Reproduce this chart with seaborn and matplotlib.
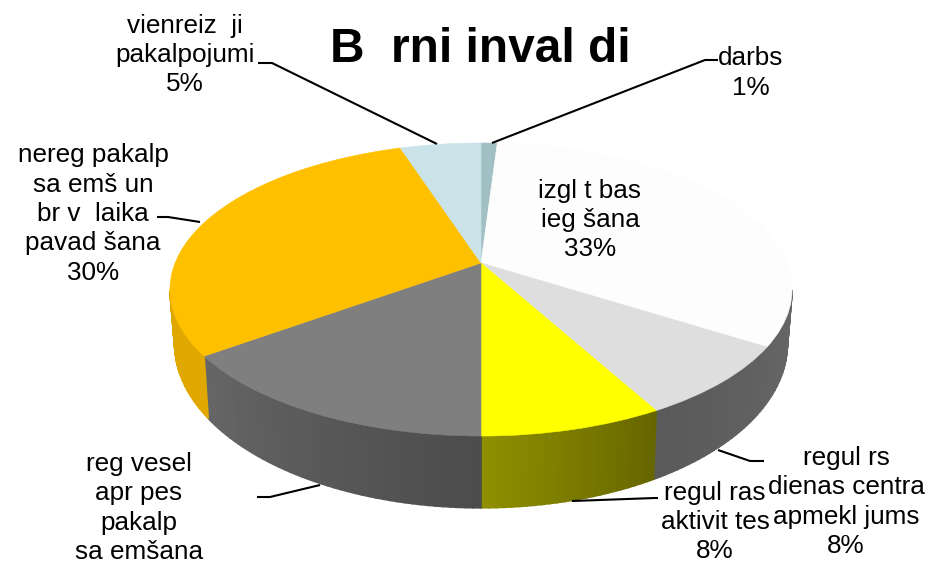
"""3D style pie chart, drawn from a flat seaborn/matplotlib pie put through a perspective transform."""
import numpy as np
import seaborn as sns
import matplotlib.pyplot as plt
from matplotlib.transforms import Transform

# Data (clockwise from the top)
slice_names = ["darbs", "izgl t bas\nieg šana", "regul rs\ndienas centra\napmekl jums", "regul ras\naktivit tes",
               "reg vesel\napr pes\npakalp\nsa emšana", "nereg pakalp\nsa emš un\nbr v  laika\npavad šana",
               "vienreiz  ji\npakalpojumi"]
slice_values = [1, 33, 8, 8, 15, 30, 5]
slice_shown = ["1%", "33%", "8%", "8%", None, "30%", "5%"]
title_text = "B  rni inval di"

# Styles
top_colors = ["#A0C0C4", "#FDFDFD", "#DEDEDE", "#FFFF00", "#7F7F7F", "#FFC000", "#C9E3E8"]
wall_colors = [("#90B0B4", "#90B0B4"), ("#808080", "#626262"), ("#626262", "#5A5A5A"), ("#666600", "#8F8F00"),
               ("#4C4C4C", "#666666"), ("#E0A800", "#DDA600"), ("#B0C8CC", "#B0C8CC")]
label_pos = [(751, 73), (590, 220), (846, 502), (715, 522), (139, 508), (93, 214), (185, 55)]
leaders = [[(492, 143), (705, 60), (718, 60)], None, [(718, 450), (750, 461), (764, 461)],
           [(572, 501), (655, 498), (658, 498)], [(320, 485), (270, 497), (257, 497)],
           [(200, 222), (168, 217), (157, 217)], [(437, 144), (272, 63), (258, 63)]]

APEX_X, APEX_Y = 481, 263
PERSP_A, PERSP_C, PERSP_K = 141.7, 0.181, 305.9


class PieProjection(Transform):
    """Unit circle of the pie to pixels, with the near side of the disc larger"""
    input_dims = 2
    output_dims = 2
    is_affine = False
    is_separable = False
    has_inverse = False

    def transform_non_affine(self, values):
        values = np.asarray(values)
        den = 1 + PERSP_C * values[:, 1]
        return np.column_stack([APEX_X + PERSP_K * values[:, 0] / den,
                                APEX_Y - PERSP_A * values[:, 1] / den])


sns.set_theme(style="white")
plt.rcParams["font.family"] = ["Liberation Sans", "DejaVu Sans"]

fig = plt.figure(figsize=(9.34, 5.74), dpi=100)
ax = fig.add_axes([0, 0, 1, 1])
proj = PieProjection()

# Top of the pie
wedges, _ = ax.pie(slice_values, colors=top_colors, startangle=90, counterclock=False, radius=1)
for wedge, color in zip(wedges, top_colors):
    wedge.set_transform(proj + ax.transData)
    wedge.set_edgecolor(color)
    wedge.set_linewidth(0.4)
    wedge.set_zorder(3)
    wedge.set_clip_on(False)
ax.set_aspect("auto")
ax.set_xlim(0, 934)
ax.set_ylim(574, 0)
ax.axis("off")

# Side wall of the pie, a strip per small step of angle (front part only)
edges = np.cumsum([0] + slice_values) / sum(slice_values)
for i, color_pair in enumerate(wall_colors):
    n_strips = max(4, slice_values[i] * 3)
    steps = np.linspace(edges[i], edges[i + 1], n_strips + 1) * 2 * np.pi
    shades = sns.blend_palette(color_pair, n_strips)
    rim = proj.transform_non_affine(np.column_stack([np.sin(steps), np.cos(steps)]))
    depth = 51 + 0.12 * (rim[:, 1] - APEX_Y)
    low_x = APEX_X + (rim[:, 0] - APEX_X) * 0.985
    low_y = rim[:, 1] + depth
    for j in range(n_strips):
        if min(rim[j, 1], rim[j + 1, 1]) < APEX_Y + 25:
            continue
        ax.fill([rim[j, 0], rim[j + 1, 0], low_x[j + 1], low_x[j]],
                [rim[j, 1], rim[j + 1, 1], low_y[j + 1], low_y[j]],
                color=shades[j], lw=1.2, zorder=2, clip_on=False)

# Leader lines and labels
for line in leaders:
    if line is not None:
        ax.plot(*zip(*line), color="black", lw=1.5, zorder=4, solid_capstyle="butt")
for name, shown, pos in zip(slice_names, slice_shown, label_pos):
    text = name if shown is None else f"{name}\n{shown}"
    ax.text(pos[0], pos[1], text, fontsize=18.8, ha="center", va="center", linespacing=1.28,
            color="black", zorder=5)

ax.text(480, 50, title_text, fontsize=34.5, fontweight="bold", ha="center", va="center", color="black", zorder=5)

fig.savefig("out.png", dpi=100)
